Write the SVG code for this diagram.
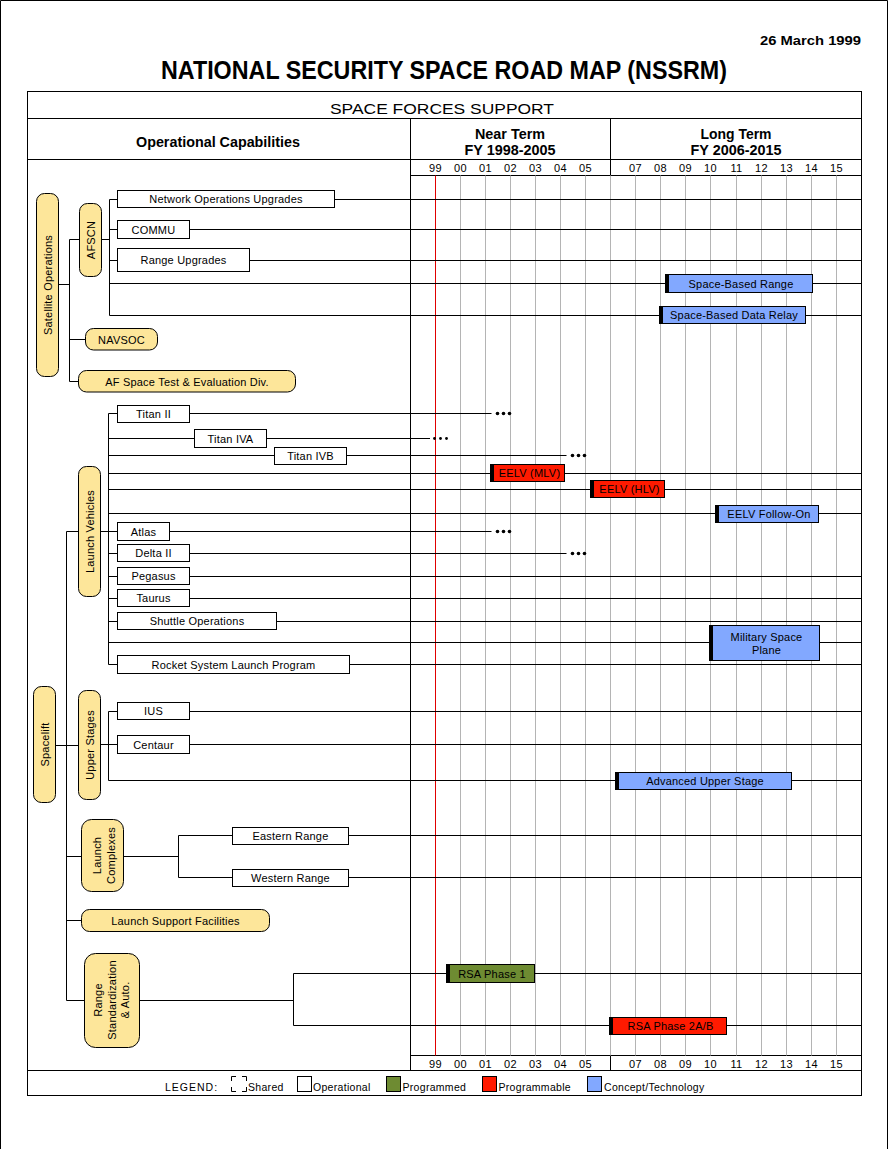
<svg xmlns="http://www.w3.org/2000/svg" width="888" height="1149" viewBox="0 0 888 1149">
<style>
text{font-family:"Liberation Sans",Arial,sans-serif;fill:#000}
.t{font-size:11px;letter-spacing:0.2px;text-anchor:middle;dominant-baseline:central}
.yr{font-size:11px;text-anchor:middle;letter-spacing:0.3px}
.hd{font-size:14px;font-weight:bold;text-anchor:middle}
.lg{font-size:10.5px;letter-spacing:0.3px;dominant-baseline:central}
.ln{stroke:#000;stroke-width:1;fill:none}
.gr{stroke:#b4b4b4;stroke-width:1}
.box{fill:#fff;stroke:#000;stroke-width:1}
.yel{fill:#fde69a;stroke:#000;stroke-width:1}
.blue{fill:#82a8ff;stroke:#000;stroke-width:1}
.red{fill:#ff1a00;stroke:#000;stroke-width:1}
.grn{fill:#6e8b32;stroke:#000;stroke-width:1}
.strip{fill:#000}
.dot{fill:#000}
</style>

<g id="page">
<path class="ln" d="M0.5,1149 V0.5 H887.5 V1149"/>
<text x="861" y="45" style="font-size:13px;font-weight:bold;text-anchor:end" textLength="101" lengthAdjust="spacingAndGlyphs">26 March 1999</text>
<text x="444" y="79" style="font-size:26px;font-weight:bold;text-anchor:middle" textLength="566" lengthAdjust="spacingAndGlyphs">NATIONAL SECURITY SPACE ROAD MAP (NSSRM)</text>
</g>

<g id="frame">
<rect class="ln" x="27.5" y="91.5" width="834" height="1004"/>
<path class="ln" d="M27.5,118.5 H861.5 M27.5,159.5 H861.5 M410.5,175.5 H861.5 M410.5,1055.5 H861.5 M27.5,1070.5 H861.5 M410.5,118.5 V1070.5 M610.5,118.5 V175.5 M610.5,1055.5 V1070.5"/>
<text x="442" y="113.5" style="font-size:14px;text-anchor:middle" textLength="224" lengthAdjust="spacingAndGlyphs">SPACE FORCES SUPPORT</text>
<text class="hd" x="218" y="147" textLength="164" lengthAdjust="spacingAndGlyphs">Operational Capabilities</text>
<text class="hd" x="510" y="139" textLength="70" lengthAdjust="spacingAndGlyphs">Near Term</text>
<text class="hd" x="510" y="155" textLength="91" lengthAdjust="spacingAndGlyphs">FY 1998-2005</text>
<text class="hd" x="736" y="139" textLength="71" lengthAdjust="spacingAndGlyphs">Long Term</text>
<text class="hd" x="736" y="155" textLength="91" lengthAdjust="spacingAndGlyphs">FY 2006-2015</text>
</g>

<g id="grid">
<path class="gr" d="M460.5,175.5V1055.5 M485.5,175.5V1055.5 M510.5,175.5V1055.5 M535.5,175.5V1055.5 M560.5,175.5V1055.5 M585.5,175.5V1055.5 M610.5,175.5V1055.5 M635.5,175.5V1055.5 M660.5,175.5V1055.5 M685.5,175.5V1055.5 M710.5,175.5V1055.5 M736.5,175.5V1055.5 M761.5,175.5V1055.5 M786.5,175.5V1055.5 M811.5,175.5V1055.5 M836.5,175.5V1055.5"/>
<path d="M435.5,175.5V1055.5" stroke="#e00000" stroke-width="1"/>
<g id="years-top">
<text class="yr" x="435.5" y="172">99</text><text class="yr" x="460.5" y="172">00</text><text class="yr" x="485.5" y="172">01</text><text class="yr" x="510.5" y="172">02</text><text class="yr" x="535.5" y="172">03</text><text class="yr" x="560.5" y="172">04</text><text class="yr" x="585.5" y="172">05</text><text class="yr" x="635.5" y="172">07</text><text class="yr" x="660.5" y="172">08</text><text class="yr" x="685.5" y="172">09</text><text class="yr" x="710.5" y="172">10</text><text class="yr" x="736.5" y="172">11</text><text class="yr" x="761.5" y="172">12</text><text class="yr" x="786.5" y="172">13</text><text class="yr" x="811.5" y="172">14</text><text class="yr" x="836.5" y="172">15</text>
</g>
<g id="years-bottom">
<text class="yr" x="435.5" y="1068">99</text><text class="yr" x="460.5" y="1068">00</text><text class="yr" x="485.5" y="1068">01</text><text class="yr" x="510.5" y="1068">02</text><text class="yr" x="535.5" y="1068">03</text><text class="yr" x="560.5" y="1068">04</text><text class="yr" x="585.5" y="1068">05</text><text class="yr" x="635.5" y="1068">07</text><text class="yr" x="660.5" y="1068">08</text><text class="yr" x="685.5" y="1068">09</text><text class="yr" x="710.5" y="1068">10</text><text class="yr" x="736.5" y="1068">11</text><text class="yr" x="761.5" y="1068">12</text><text class="yr" x="786.5" y="1068">13</text><text class="yr" x="811.5" y="1068">14</text><text class="yr" x="836.5" y="1068">15</text>
</g>
</g>

<g id="connectors">
<path class="ln" d="M58.5,284.5H69.5 M69.5,239.5V381.5 M69.5,239.5H79.5 M69.5,339.5H85.5 M69.5,381.5H78.5"/>
<path class="ln" d="M101.5,239.5H109.5 M109.5,199.5V315.5 M109.5,199.5H861.5 M109.5,229.5H861.5 M109.5,260.5H861.5 M109.5,283.5H861.5 M109.5,315.5H861.5"/>
<path class="ln" d="M66.5,531.5H78.5 M100.5,531.5H108.5 M108.5,413.5V664.5"/>
<path class="ln" d="M108.5,413.5H491.5 M108.5,438.5H430 M108.5,455.5H566.5 M108.5,473.5H861.5 M108.5,489.5H861.5 M108.5,513.5H861.5 M108.5,531.5H491.5 M108.5,553.5H566.5 M108.5,576.5H861.5 M108.5,598.5H861.5 M108.5,621.5H861.5 M108.5,642.5H861.5 M108.5,664.5H861.5"/>
<path class="ln" d="M66.5,531.5V1000.5 M55.5,745.5H66.5"/>
<path class="ln" d="M66.5,745.5H78.5 M100.5,744.5H108.5 M108.5,711.5V780.5 M108.5,711.5H861.5 M108.5,744.5H861.5 M108.5,780.5H861.5"/>
<path class="ln" d="M66.5,856.5H81.5 M123.5,856.5H178.5 M178.5,835.5V877.5 M178.5,835.5H861.5 M178.5,877.5H861.5"/>
<path class="ln" d="M66.5,920.5H81.5"/>
<path class="ln" d="M66.5,1000.5H84.5 M139.5,1000.5H293.5 M293.5,973.5V1025.5 M293.5,973.5H861.5 M293.5,1025.5H861.5"/>
<g id="dots">
<circle class="dot" cx="497.5" cy="413.5" r="1.8"/><circle class="dot" cx="503.5" cy="413.5" r="1.8"/><circle class="dot" cx="509.5" cy="413.5" r="1.8"/>
<circle class="dot" cx="434.5" cy="438.5" r="1.4"/><circle class="dot" cx="440.5" cy="438.5" r="1.4"/><circle class="dot" cx="446.5" cy="438.5" r="1.4"/>
<circle class="dot" cx="572.5" cy="455.5" r="1.8"/><circle class="dot" cx="578.5" cy="455.5" r="1.8"/><circle class="dot" cx="584.5" cy="455.5" r="1.8"/>
<circle class="dot" cx="497.5" cy="531.5" r="1.8"/><circle class="dot" cx="503.5" cy="531.5" r="1.8"/><circle class="dot" cx="509.5" cy="531.5" r="1.8"/>
<circle class="dot" cx="572.5" cy="553.5" r="1.8"/><circle class="dot" cx="578.5" cy="553.5" r="1.8"/><circle class="dot" cx="584.5" cy="553.5" r="1.8"/>
</g>
</g>

<g id="satellite-operations"><rect class="yel" x="36.5" y="193.5" width="22" height="183" rx="8"/><text class="t" transform="translate(47.5,285) rotate(-90)">Satellite Operations</text></g>
<g id="afscn"><rect class="yel" x="79.5" y="203.5" width="22" height="73" rx="8"/><text class="t" transform="translate(90.5,240) rotate(-90)">AFSCN</text></g>
<g id="network-operations-upgrades"><rect class="box" x="117.5" y="190.5" width="217" height="17"/><text class="t" x="226" y="199">Network Operations Upgrades</text></g>
<g id="commu"><rect class="box" x="117.5" y="220.5" width="72" height="18"/><text class="t" x="153.5" y="229.5">COMMU</text></g>
<g id="range-upgrades"><rect class="box" x="117.5" y="248.5" width="132" height="23"/><text class="t" x="183.5" y="260">Range Upgrades</text></g>
<g id="space-based-range"><rect class="blue" x="665.5" y="274.5" width="147" height="18"/><rect class="strip" x="665" y="274" width="4" height="19"/><text class="t" x="741" y="283.5">Space-Based Range</text></g>
<g id="space-based-data-relay"><rect class="blue" x="659.5" y="306.5" width="146" height="17"/><rect class="strip" x="659" y="306" width="4" height="18"/><text class="t" x="734" y="315">Space-Based Data Relay</text></g>
<g id="navsoc"><rect class="yel" x="85.5" y="328.5" width="72" height="21.5" rx="8"/><text class="t" x="121.5" y="339.5">NAVSOC</text></g>
<g id="af-space-test"><rect class="yel" x="78.5" y="370.5" width="217" height="21.5" rx="8"/><text class="t" x="187" y="381.5">AF Space Test &amp; Evaluation Div.</text></g>

<g id="spacelift"><rect class="yel" x="33.5" y="686.5" width="22" height="116" rx="8"/><text class="t" transform="translate(44.5,744.5) rotate(-90)">Spacelift</text></g>
<g id="launch-vehicles"><rect class="yel" x="78.5" y="466.5" width="22" height="130" rx="8"/><text class="t" transform="translate(89.5,531.5) rotate(-90)">Launch Vehicles</text></g>
<g id="titan-ii"><rect class="box" x="117.5" y="405.5" width="72" height="17"/><text class="t" x="153.5" y="414">Titan II</text></g>
<g id="titan-iva"><rect class="box" x="194.5" y="429.5" width="72" height="18"/><text class="t" x="230.5" y="438.5">Titan IVA</text></g>
<g id="titan-ivb"><rect class="box" x="274.5" y="447.5" width="72" height="17"/><text class="t" x="310.5" y="456">Titan IVB</text></g>
<g id="eelv-mlv"><rect class="red" x="490.5" y="464.5" width="74" height="17"/><rect class="strip" x="490" y="464" width="4" height="18"/><text class="t" x="529.5" y="473">EELV (MLV)</text></g>
<g id="eelv-hlv"><rect class="red" x="590.5" y="480.5" width="74" height="17"/><rect class="strip" x="590" y="480" width="4" height="18"/><text class="t" x="629.5" y="489">EELV (HLV)</text></g>
<g id="eelv-follow-on"><rect class="blue" x="715.5" y="505.5" width="103" height="17"/><rect class="strip" x="715" y="505" width="4" height="18"/><text class="t" x="769" y="514">EELV Follow-On</text></g>
<g id="atlas"><rect class="box" x="117.5" y="522.5" width="52" height="18"/><text class="t" x="143.5" y="531.5">Atlas</text></g>
<g id="delta-ii"><rect class="box" x="117.5" y="544.5" width="72" height="17"/><text class="t" x="153.5" y="553">Delta II</text></g>
<g id="pegasus"><rect class="box" x="117.5" y="567.5" width="72" height="17"/><text class="t" x="153.5" y="576">Pegasus</text></g>
<g id="taurus"><rect class="box" x="117.5" y="589.5" width="72" height="17"/><text class="t" x="153.5" y="598">Taurus</text></g>
<g id="shuttle-operations"><rect class="box" x="117.5" y="612.5" width="159" height="17"/><text class="t" x="197" y="621">Shuttle Operations</text></g>
<g id="military-space-plane"><rect class="blue" x="709.5" y="625.5" width="110" height="35"/><rect class="strip" x="709" y="625" width="4" height="36"/><text class="t" x="766.5" y="636.5">Military Space</text><text class="t" x="766.5" y="650">Plane</text></g>
<g id="rslp"><rect class="box" x="117.5" y="655.5" width="232" height="18"/><text class="t" x="233.5" y="664.5">Rocket System Launch Program</text></g>
<g id="upper-stages"><rect class="yel" x="78.5" y="690.5" width="22" height="109" rx="8"/><text class="t" transform="translate(89.5,745) rotate(-90)">Upper Stages</text></g>
<g id="ius"><rect class="box" x="117.5" y="702.5" width="72" height="17"/><text class="t" x="153.5" y="711">IUS</text></g>
<g id="centaur"><rect class="box" x="117.5" y="735.5" width="72" height="18"/><text class="t" x="153.5" y="744.5">Centaur</text></g>
<g id="advanced-upper-stage"><rect class="blue" x="615.5" y="772.5" width="176" height="17"/><rect class="strip" x="615" y="772" width="4" height="18"/><text class="t" x="705" y="781">Advanced Upper Stage</text></g>
<g id="launch-complexes"><rect class="yel" x="81.5" y="819.5" width="42" height="72" rx="10"/><text class="t" transform="translate(96.5,855.5) rotate(-90)">Launch</text><text class="t" transform="translate(110.5,855.5) rotate(-90)">Complexes</text></g>
<g id="eastern-range"><rect class="box" x="232.5" y="827.5" width="116" height="17"/><text class="t" x="290.5" y="836">Eastern Range</text></g>
<g id="western-range"><rect class="box" x="232.5" y="869.5" width="116" height="17"/><text class="t" x="290.5" y="878">Western Range</text></g>
<g id="launch-support-facilities"><rect class="yel" x="81.5" y="909.5" width="188" height="22" rx="8"/><text class="t" x="175.5" y="920.5">Launch Support Facilities</text></g>
<g id="range-standardization"><rect class="yel" x="84.5" y="953.5" width="55" height="94" rx="11"/><text class="t" transform="translate(97.5,1000) rotate(-90)">Range</text><text class="t" transform="translate(111.5,1000) rotate(-90)">Standardization</text><text class="t" transform="translate(125,1000) rotate(-90)">&amp; Auto.</text></g>
<g id="rsa-phase-1"><rect class="grn" x="446.5" y="964.5" width="88" height="18"/><rect class="strip" x="446" y="964" width="4" height="19"/><text class="t" x="492" y="973.5">RSA Phase 1</text></g>
<g id="rsa-phase-2ab"><rect class="red" x="609.5" y="1017.5" width="117" height="17"/><rect class="strip" x="609" y="1017" width="4" height="18"/><text class="t" x="670.5" y="1026">RSA Phase 2A/B</text></g>

<g id="legend">
<text class="lg" x="165" y="1087" style="letter-spacing:1px">LEGEND:</text>
<path class="ln" d="M231.5,1081V1076.5H236 M242,1076.5H246.5V1081 M231.5,1087V1091.5H236 M242,1091.5H246.5V1087"/>
<text class="lg" x="248" y="1087">Shared</text>
<rect class="box" x="297.5" y="1076.5" width="14" height="15"/>
<text class="lg" x="313" y="1087">Operational</text>
<rect class="grn" x="386.5" y="1076.5" width="14" height="15"/>
<text class="lg" x="402.5" y="1087">Programmed</text>
<rect class="red" x="482.5" y="1076.5" width="14" height="15"/>
<text class="lg" x="498.5" y="1087">Programmable</text>
<rect class="blue" x="587.5" y="1076.5" width="14" height="15"/>
<text class="lg" x="604" y="1087">Concept/Technology</text>
</g>
</svg>
